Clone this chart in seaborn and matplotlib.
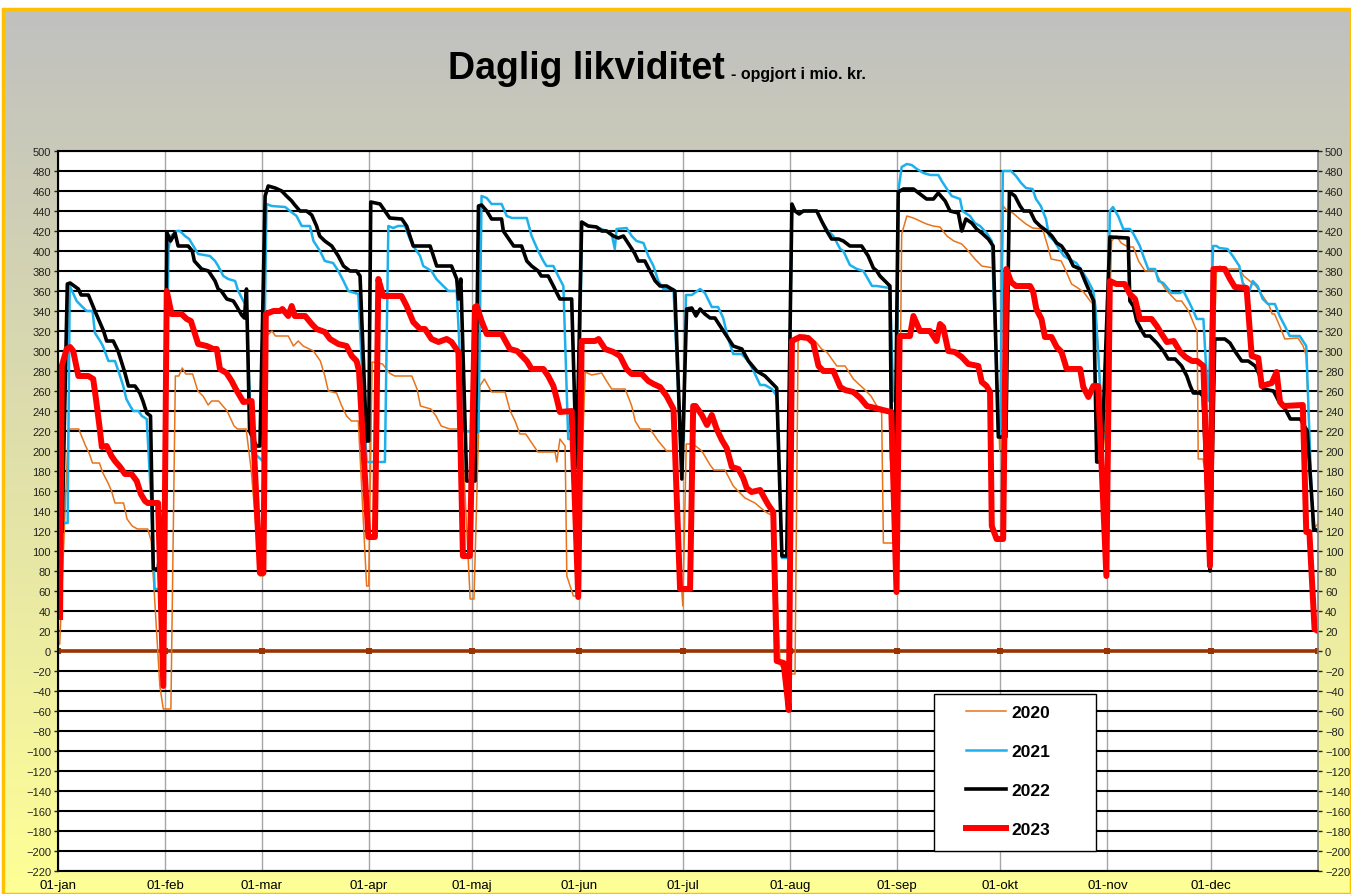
import numpy as np
import pandas as pd
import matplotlib
matplotlib.use("Agg")
import matplotlib.pyplot as plt
from matplotlib.lines import Line2D
from matplotlib.patches import Rectangle
import seaborn as sns

plt.rcParams['font.family'] = ['Liberation Sans', 'DejaVu Sans']

maaneder = ['01-jan', '01-feb', '01-mar', '01-apr', '01-maj', '01-jun',
            '01-jul', '01-aug', '01-sep', '01-okt', '01-nov', '01-dec']
maaned_start = [0, 31, 59, 90, 120, 151, 181, 212, 243, 273, 304, 334]

# (dag i året, mio. kr.)
punkter_2020 = [
    (0.5, 7), (3, 222), (6, 222), (8, 205), (9, 198), (10, 188), (12, 188), (13, 178),
    (14.5, 168), (15.5, 160), (16.5, 148), (19, 148), (20, 132), (21.5, 125), (23, 122),
    (26, 122), (27, 110), (29.5, -35), (30.5, -58), (32.7, -58), (34, 275), (35, 275),
    (36, 283), (37, 277), (39, 277), (40.5, 260), (42, 255), (43.5, 246), (44.5, 250),
    (46.5, 250), (49, 240), (51, 225), (52, 222), (54.5, 222), (56, 180), (58.5, 75),
    (59.5, 75), (60.4, 315), (62, 320), (63, 315), (66.7, 315), (68.2, 305), (69.6, 310),
    (71, 305), (74, 300), (76, 290), (77.3, 275), (78.3, 260), (80.7, 258), (82.2, 245),
    (83.6, 235), (85, 230), (87, 230), (89.4, 65), (90, 65), (91, 289), (94, 287),
    (96, 278), (97.5, 275), (102.5, 275), (104, 262), (105, 245), (108, 242), (109.5, 235),
    (111, 225), (113.5, 222), (117, 222), (118, 150), (119.4, 52), (120.5, 52), (122.2, 265),
    (123.5, 272), (125.6, 259), (129.5, 259), (131, 240), (132.4, 230), (133.8, 217),
    (135.5, 217), (139, 199), (144, 199), (144.5, 189), (145.4, 212), (146.9, 205),
    (147.4, 75), (149.3, 55), (150.5, 55), (152.7, 279), (154.6, 276), (157.5, 278),
    (158.9, 270), (160.4, 262), (164.3, 262), (166.2, 245), (167.2, 230), (168.6, 222),
    (171.5, 222), (173.9, 210), (176.3, 200), (178.3, 200), (179.5, 120), (181, 45),
    (182, 207), (184, 207), (186.5, 200), (188.9, 186), (190, 181), (193.2, 181),
    (195.6, 165), (197.6, 158), (199, 153), (201.9, 148), (204.3, 141), (205.5, 138),
    (207.2, 135), (209.2, -14), (211, -23), (213.5, -23), (214.4, 310), (215.9, 316),
    (217.3, 315), (219.8, 308), (221.2, 302), (222.7, 299), (225.6, 285), (228, 285),
    (230.4, 272), (233.8, 261), (235.5, 255), (237.2, 245), (238.6, 238), (239.1, 108),
    (243.5, 108), (244.4, 417), (245.9, 435), (247.8, 433), (249.7, 430), (251.6, 427),
    (253.5, 425), (255.5, 424), (257.5, 415), (259.5, 410), (261.8, 407), (263.7, 400),
    (265.6, 392), (267.6, 385), (271, 383), (272.8, 200), (273.8, 445), (275, 440),
    (276.6, 438), (278.6, 432), (280.4, 427), (282.3, 423), (285.2, 422), (286.7, 405),
    (287.7, 392), (290.6, 390), (292, 380), (293.6, 367), (295, 364), (297.1, 359),
    (299, 350), (300.5, 345), (302.1, 259), (303.5, 200), (305.2, 410), (306.6, 415),
    (308, 408), (310, 404), (311.5, 404), (313, 390), (314.9, 380), (317.8, 380),
    (319.3, 370), (320.8, 362), (322.6, 355), (324, 350), (325.5, 350), (327.5, 340),
    (329.4, 324), (330, 320), (330.3, 192), (331.7, 192), (333.5, 150), (335.6, 382),
    (336.6, 385), (338, 382), (342.2, 382), (343.5, 375), (345.6, 369), (347, 365),
    (349, 355), (350.9, 345), (351.7, 337), (352.4, 337), (353.9, 325), (355.4, 312),
    (359.2, 313), (360.7, 305), (361.6, 295), (363.5, 122), (365, 127),
]

punkter_2021 = [
    (0, 128), (2.8, 128), (3.4, 365), (5.4, 350), (6.8, 345), (8.3, 340), (10, 340),
    (10.7, 318), (12.2, 310), (13, 305), (14.6, 290), (16.5, 290), (17.5, 280), (18.9, 265),
    (19.8, 252), (20.9, 245), (21.8, 240), (23.3, 240), (24.3, 235), (25.7, 232), (27, 150),
    (28, 62), (30.8, 62), (32, 402), (32.7, 415), (34.4, 420), (35.3, 420), (36.8, 415),
    (38, 412), (39.2, 405), (40.6, 397), (44, 395), (45.5, 390), (46.4, 385), (47.9, 375),
    (49.3, 372), (51.3, 370), (52.2, 360), (53.7, 350), (54.6, 345), (56.1, 200),
    (59.3, 190), (60.4, 447), (61.9, 445), (65.8, 444), (67.2, 440), (69.1, 435),
    (70.6, 425), (73, 425), (74, 410), (75.9, 400), (77.3, 390), (79.7, 388), (81.2, 380),
    (82.7, 370), (84.1, 360), (87, 357), (89.4, 189), (94.7, 189), (95.7, 425), (97.1, 423),
    (98.5, 425), (100.5, 425), (101.8, 413), (102.9, 405), (104.9, 395), (105.8, 385),
    (108.2, 380), (109.6, 372), (111.6, 365), (113.1, 360), (115.5, 360), (117.5, 220),
    (121.8, 219), (122.7, 455), (124.2, 453), (125.6, 447), (128.5, 447), (130, 435),
    (131.5, 433), (135.8, 433), (137.2, 415), (139.1, 400), (140.6, 390), (141.5, 385),
    (143.5, 385), (144.9, 375), (146.4, 365), (147.8, 212), (151, 212), (151.7, 428),
    (153.6, 425), (156, 424), (158.9, 420), (160.5, 415), (161.3, 402), (161.8, 422),
    (164.7, 423), (166.2, 415), (167.6, 410), (169.6, 408), (171, 395), (172.5, 385),
    (173.9, 370), (175.4, 362), (178.3, 362), (180.3, 210), (181.3, 210), (181.9, 356),
    (183.6, 356), (186, 362), (187.4, 358), (189.4, 344), (191.2, 344), (192.7, 333),
    (194, 314), (195.6, 297), (198, 297), (200, 290), (201.5, 280), (203.4, 266),
    (204.8, 266), (206.8, 262), (208.2, 255), (209.7, 93), (211.1, 93), (212.6, 440),
    (213.5, 440), (214.7, 438), (215.9, 440), (219.8, 440), (221.2, 430), (223.1, 420),
    (224.6, 415), (226.6, 402), (227.5, 400), (229.4, 386), (231.4, 382), (233.3, 380),
    (235.8, 365), (237.2, 365), (241, 363), (242, 250), (243, 250), (243.5, 462),
    (244.4, 484), (245.9, 487), (247.3, 486), (248.8, 482), (250.7, 478), (252.7, 476),
    (255, 476), (256, 470), (257.5, 462), (258.9, 455), (261.3, 452), (262, 440),
    (264.2, 435), (265.6, 428), (267.1, 425), (269, 418), (270.5, 410), (272.5, 215),
    (273, 215), (273.7, 480), (276.1, 480), (277.5, 475), (279, 468), (280.4, 463),
    (282.3, 462), (283.3, 452), (284.7, 445), (286.2, 432), (287.1, 415), (288.6, 410),
    (290, 402), (291.4, 395), (292.9, 392), (295, 388), (297, 378), (298.4, 370),
    (299.9, 360), (300.5, 345), (302.7, 215), (303.7, 215), (304.7, 440), (305.6, 444),
    (307.1, 435), (308.6, 422), (310.5, 422), (311.4, 418), (313.4, 405), (314.4, 395),
    (315.8, 382), (317.8, 382), (318.8, 370), (320.2, 368), (321.6, 362), (322.6, 358),
    (325, 358), (326, 360), (327.5, 350), (328.9, 340), (329.9, 332), (331.8, 332),
    (332.5, 289), (333.3, 250), (334.6, 405), (335.6, 405), (336.4, 403), (338.8, 402),
    (340.3, 395), (342.2, 385), (343.2, 368), (345.1, 360), (346.1, 370), (347.5, 365),
    (349, 352), (350.5, 347), (352.5, 347), (353.9, 335), (355.4, 325), (356.8, 315),
    (359.7, 315), (361.6, 305), (363.5, 122), (365, 122),
]

punkter_2022 = [
    (1.2, 120), (2.7, 367), (3.5, 368), (5.9, 362), (6.7, 356), (8.8, 356), (10.7, 340),
    (12.2, 328), (13.2, 320), (14.1, 310), (16, 310), (17.4, 300), (18.3, 290), (19.4, 278),
    (20.4, 265), (22.3, 265), (23.7, 258), (24.6, 250), (25.7, 238), (26.8, 235),
    (27.6, 82), (29, 82), (30.9, 150), (31.5, 419), (32.6, 410), (33.9, 418), (34.8, 405),
    (37.7, 405), (38.9, 400), (39.5, 390), (41.6, 382), (43.6, 380), (45.5, 370),
    (46.4, 362), (47.3, 360), (48.9, 352), (50.8, 350), (51.7, 345), (53.2, 336), (54, 333),
    (54.6, 362), (55.5, 220), (57.5, 205), (58.5, 205), (60, 455), (60.9, 465), (62.9, 463),
    (64.8, 460), (66.2, 455), (67.7, 450), (68.6, 446), (70.1, 440), (72, 440), (73.5, 436),
    (74.9, 425), (75.8, 415), (77.3, 410), (79.3, 405), (81.2, 395), (82.7, 385),
    (84.6, 380), (86.5, 380), (87.5, 375), (89.4, 210), (90, 210), (90.6, 449), (93.3, 447),
    (94.7, 440), (96.1, 433), (99.6, 432), (101, 425), (102.9, 405), (107.8, 405),
    (109.7, 385), (114, 385), (115.5, 372), (116, 352), (116.7, 372), (118.4, 170),
    (120.8, 170), (121.8, 445), (122.7, 446), (124.2, 440), (125.6, 432), (128.5, 432),
    (129, 420), (131, 410), (132, 405), (134.3, 405), (135.8, 390), (137.2, 385),
    (139.1, 380), (140, 375), (142, 375), (143.5, 365), (144.5, 358), (145.4, 352),
    (148.8, 352), (150.2, 184), (151.7, 429), (153.6, 425), (156, 424), (157.5, 420),
    (158.9, 420), (160.9, 415), (162.3, 413), (163.8, 415), (165.7, 405), (167, 398),
    (168.1, 390), (170, 390), (171.5, 380), (173, 370), (174.4, 365), (176.3, 365),
    (178.7, 360), (180.7, 172), (182.1, 342), (183.6, 343), (184.8, 335), (186, 342),
    (187.4, 337), (188.9, 333), (190.3, 333), (191.8, 325), (193.7, 315), (195.6, 305),
    (198.1, 302), (200, 290), (202.4, 280), (204.8, 275), (206.8, 268), (208.2, 263),
    (209.7, 95), (211.1, 95), (212.6, 447), (213.5, 440), (214.7, 437), (215.9, 440),
    (219.8, 440), (221.2, 430), (222.7, 420), (224.1, 412), (226.1, 412), (227.5, 410),
    (229.4, 405), (232.8, 405), (234.7, 395), (236.2, 383), (237.2, 380), (238.1, 375),
    (240.1, 368), (241, 365), (241.5, 190), (242.5, 190), (243.4, 459), (244.9, 462),
    (247.8, 462), (249.7, 457), (251.6, 452), (253.6, 452), (255, 458), (257, 450),
    (258.4, 440), (260.8, 438), (261.8, 420), (263, 432), (264.7, 428), (266.1, 422),
    (267.6, 418), (269.5, 412), (270.9, 405), (272.4, 214), (274.6, 214), (275.6, 459),
    (277.2, 455), (278.7, 445), (279.7, 440), (281.6, 440), (283, 430), (284.5, 425),
    (286.4, 420), (287.9, 415), (289.3, 408), (290.7, 405), (292.7, 395), (294.1, 385),
    (296.1, 382), (297.5, 370), (299, 358), (300, 350), (300.9, 189), (302.3, 189),
    (304.7, 414), (310, 413), (310.5, 350), (311.5, 345), (312.5, 330), (314, 320),
    (314.9, 315), (316.3, 315), (318.3, 308), (320.2, 300), (321.6, 292), (323.6, 292),
    (325.5, 285), (327, 275), (328, 265), (328.9, 258), (330.8, 258), (331.7, 255),
    (333.7, 80), (335.1, 312), (338, 312), (339.5, 308), (340.9, 300), (342.9, 290),
    (344.8, 290), (346.8, 285), (348.2, 275), (349.2, 262), (352.1, 260), (353.6, 250),
    (355.5, 242), (357, 232), (359.9, 232), (361.9, 220), (363.8, 122), (365, 120),
]

punkter_2023 = [
    (0.6, 34), (1.1, 285), (2.5, 302), (3.5, 304), (4.4, 300), (5.9, 275), (8.8, 275),
    (10.2, 272), (11, 252), (12, 225), (12.7, 204), (14.1, 205), (15.5, 195), (16.5, 190),
    (18, 184), (19.4, 177), (21.3, 177), (22.8, 170), (24, 157), (25.2, 150), (26, 148),
    (29, 148), (30.5, -35), (31.5, 360), (32.9, 337), (35.8, 337), (37.3, 332),
    (38.5, 330), (40.6, 307), (43.1, 305), (45, 302), (46, 302), (46.9, 282), (48.8, 278),
    (50.3, 270), (51.5, 262), (53.7, 249), (56.1, 250), (58.5, 78), (59.5, 78),
    (60.2, 337), (62.4, 340), (64.3, 340), (65, 342), (66.7, 335), (67.7, 345), (68.6, 335),
    (71.6, 335), (73.5, 327), (74.9, 322), (77.3, 319), (78.8, 312), (81.2, 307),
    (83.6, 305), (85.1, 295), (86.5, 290), (87.2, 280), (89.9, 114), (91.8, 114),
    (92.8, 372), (94.2, 355), (99.5, 355), (101, 345), (102.9, 329), (104.9, 322),
    (106.3, 322), (108.2, 312), (110.2, 309), (112.6, 312), (114, 309), (116, 299),
    (117.3, 95), (119.3, 95), (120.8, 344), (121.3, 345), (122.7, 330), (124.2, 317),
    (128.5, 317), (130.9, 302), (133, 300), (135.8, 290), (137.2, 282), (140.6, 282),
    (142, 275), (143.5, 265), (144.5, 252), (145.4, 239), (148.8, 240), (150.7, 54),
    (151.7, 310), (155.6, 310), (156.6, 312), (158.5, 302), (160.9, 299), (162.8, 295),
    (164.7, 282), (166.2, 277), (169.1, 277), (171, 270), (172.5, 267), (174.4, 264),
    (176.3, 255), (178.3, 242), (180.2, 62), (183.1, 62), (184, 245), (184.7, 245),
    (186.5, 236), (188, 226), (189.4, 236), (190.8, 222), (192.3, 211), (193.7, 203),
    (195.2, 184), (197.1, 182), (198.5, 173), (199.5, 163), (200.9, 159), (203.4, 161),
    (204.8, 152), (205.8, 146), (207.2, 139), (208.2, -10), (210.2, -12), (211.7, -59),
    (212.6, 310), (214.9, 314), (217.3, 313), (218.8, 308), (220.3, 285), (221.7, 280),
    (224.6, 280), (226.6, 264), (228, 261), (230.4, 259), (232.4, 253), (234.3, 245),
    (236.7, 243), (240.1, 240), (241.4, 239), (242.9, 59), (243.8, 315), (246.8, 315),
    (247.8, 335), (249.7, 320), (252.6, 320), (254.5, 310), (255.5, 327), (256.4, 324),
    (257.9, 300), (259.8, 299), (261.8, 294), (263.7, 287), (266.6, 285), (267.6, 269),
    (269, 265), (270, 259), (270.5, 125), (271.9, 112), (273.8, 112), (274.7, 382),
    (276.1, 369), (277.5, 365), (281.6, 365), (282.5, 359), (283.4, 342), (284.9, 332),
    (285.9, 314), (287.8, 314), (289.3, 304), (290.7, 299), (292.2, 282), (296.1, 282),
    (297, 264), (298.5, 254), (299.9, 265), (301.3, 265), (303.7, 75), (304.7, 370),
    (306.6, 367), (309, 367), (310.5, 357), (312, 352), (313.4, 332), (316.8, 332),
    (318.3, 325), (319.7, 317), (321.2, 309), (323.2, 310), (325.1, 299), (326.6, 294),
    (328.5, 290), (330, 290), (331.8, 285), (333.7, 85), (334.7, 382), (338, 382),
    (339.5, 372), (340.9, 364), (344.3, 363), (345.8, 295), (347.7, 293), (348.7, 265),
    (351.6, 268), (353, 279), (354, 249), (355, 245), (360.6, 246), (361.6, 119),
    (362.5, 119), (364, 22), (365, 20),
]

serier = {'2020': punkter_2020, '2021': punkter_2021,
          '2022': punkter_2022, '2023': punkter_2023}
farver = {'2020': '#E8731A', '2021': '#1CB1EC', '2022': '#000000', '2023': '#FF0000'}
bredder = {'2020': 1.1, '2021': 1.8, '2022': 2.6, '2023': 4.3}

fig = plt.figure(figsize=(13.51, 8.95), dpi=100)
fig.patch.set_facecolor('white')

# baggrund med overgang fra grå til gul
bg = fig.add_axes([3 / 1351, 0, 1 - 3 / 1351, 885 / 895])
top = np.array([192, 192, 192]) / 255
bund = np.array([255, 255, 150]) / 255
t = np.linspace(0, 1, 256)[:, None]
grad = (top * (1 - t) + bund * t)[:, None, :]
bg.imshow(grad, aspect='auto', extent=[0, 1, 0, 1])
bg.set_xlim(0, 1)
bg.set_ylim(0, 1)
bg.axis('off')
bg.add_patch(Rectangle((0, 0), 1, 1, fill=False, edgecolor='#FFC000', lw=2.5,
                       transform=bg.transAxes, clip_on=False))

ax = fig.add_axes([58 / 1351, 23 / 895, 1260 / 1351, 720 / 895])
ax.set_facecolor('white')

for m in maaned_start:
    ax.axvline(m, color='#A6A6A6', lw=1, zorder=0)
for v in range(-220, 501, 20):
    ax.axhline(v, color='black', lw=1.5, zorder=0.5)

# nul-linje med markører ved månedsskift
nul = pd.DataFrame({'dag': maaned_start + [365], 'mio': 0})
sns.lineplot(data=nul, x='dag', y='mio', color='#993300', lw=2.6, marker='s',
             markersize=4, markeredgewidth=0, ax=ax, zorder=1)

for aar, pkt in serier.items():
    df = pd.DataFrame(pkt, columns=['dag', 'mio'])
    sns.lineplot(data=df, x='dag', y='mio', color=farver[aar], lw=bredder[aar],
                 estimator=None, sort=False, ax=ax, zorder=2)

ax.set_xlim(0, 365)
ax.set_ylim(-220, 500)
ax.set_yticks(range(-220, 501, 20))
ax.set_xticks(maaned_start)
ax.set_xticklabels(maaneder, fontsize=9.5)
ax.tick_params(axis='y', labelsize=8, colors='#222222', length=3, width=1,
               right=True, labelright=True, direction='out', pad=2)
ax.tick_params(axis='x', length=0, pad=6)
ax.set_xlabel('')
ax.set_ylabel('')
for s in ['top', 'bottom']:
    ax.spines[s].set_linewidth(1.5)
ax.spines['left'].set_linewidth(1.5)
ax.spines['right'].set_color('#808080')
ax.spines['right'].set_linewidth(1.2)

# titel
fig.text(448 / 1351, 1 - 79 / 895, 'Daglig likviditet', fontsize=27,
         fontweight='bold', ha='left', va='baseline')
fig.text(731 / 1351, 1 - 79 / 895, '- opgjort i mio. kr.', fontsize=11.5,
         fontweight='bold', ha='left', va='baseline')

# forklaring
ax.add_patch(Rectangle((934 / 1351, 1 - 852 / 895), 162 / 1351, 157 / 895,
                       transform=fig.transFigure, facecolor='white', edgecolor='black',
                       lw=1, zorder=5, clip_on=False))
handles = [Line2D([], [], color=farver[a], lw=bredder[a]) for a in serier]
leg = ax.legend(handles, list(serier.keys()), loc='upper left',
                bbox_to_anchor=(966 / 1351, 1 - 706 / 895),
                bbox_transform=fig.transFigure, frameon=False,
                prop={'weight': 'bold', 'size': 12.5}, handlelength=2.3,
                handletextpad=0.3, labelspacing=1.38, borderaxespad=0, borderpad=0)
leg.set_zorder(6)

fig.savefig('out.png', dpi=100)
